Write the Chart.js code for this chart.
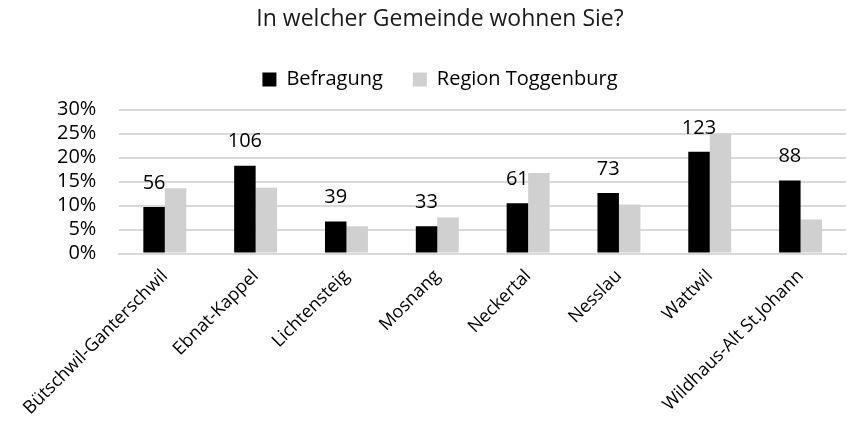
<!DOCTYPE html>
<html>
<head>
<meta charset="utf-8">
<script src="https://cdn.jsdelivr.net/npm/chart.js@4"></script>
<style>
  html, body { margin: 0; padding: 0; background: #fff; }
  #wrap { width: 850px; height: 423px; }
</style>
</head>
<body>
<div id="wrap"><canvas id="myChart" width="850" height="423"></canvas></div>
<script>
// Gemeinden und Anteile (in %)
var gemeinden = ['Bütschwil-Ganterschwil', 'Ebnat-Kappel', 'Lichtensteig', 'Mosnang',
                 'Neckertal', 'Nesslau', 'Wattwil', 'Wildhaus-Alt St.Johann'];
var befragung = [9.7, 18.3, 6.7, 5.7, 10.5, 12.6, 21.2, 15.2];
var region = [13.6, 13.7, 5.7, 7.5, 16.8, 10.2, 24.9, 7.1];
var anzahl = [56, 106, 39, 33, 61, 73, 123, 88];
var yTicks = [0, 5, 10, 15, 20, 25, 30];

var FONT = 'Open Sans';

// Anzahl-Labels über den schwarzen Balken
var countLabels = {
    id: 'countLabels',
    afterDatasetsDraw: function(chart) {
        var ctx = chart.ctx;
        var meta = chart.getDatasetMeta(0);
        ctx.save();
        ctx.font = '20px "' + FONT + '"';
        ctx.fillStyle = '#000';
        ctx.textAlign = 'center';
        ctx.textBaseline = 'middle';
        meta.data.forEach(function(bar, i) {
            ctx.fillText(anzahl[i], bar.x, bar.y - 24);
        });
        ctx.restore();
    }
};

// Abstand unter der Legende anpassen
var legendGap = {
    id: 'legendGap',
    beforeInit: function(chart) {
        var origFit = chart.legend.fit;
        chart.legend.fit = function() {
            origFit.bind(chart.legend)();
            this.height += 10;
        };
    }
};

var ctx = document.getElementById('myChart').getContext('2d');
var myChart = new Chart(ctx, {
    type: 'bar',
    data: {
        labels: gemeinden,
        datasets: [{
                label: 'Befragung',
                data: befragung,
                backgroundColor: '#000000'
            },
            {
                label: 'Region Toggenburg',
                data: region,
                backgroundColor: '#d0d0d0'
            }
        ]
    },
    options: {
        responsive: false,
        animation: false,
        layout: { padding: { left: 34, right: 4, top: 0, bottom: 0 } },
        datasets: {
            bar: { categoryPercentage: 0.473, barPercentage: 1.0 }
        },
        plugins: {
            title: {
                display: true,
                text: 'In welcher Gemeinde wohnen Sie?',
                color: '#1a1a1a',
                font: { family: FONT, size: 23, weight: 'normal' },
                padding: { top: 6, bottom: 6 }
            },
            legend: {
                display: true,
                labels: {
                    color: '#000',
                    font: { family: FONT, size: 20 },
                    boxWidth: 14,
                    boxHeight: 14,
                    padding: 30
                }
            },
            tooltip: { enabled: false }
        },
        scales: {
            x: {
                grid: { display: false },
                border: { color: '#d9d9d9', width: 2 },
                ticks: {
                    color: '#000',
                    font: { family: FONT, size: 18 },
                    minRotation: 45,
                    maxRotation: 45,
                    autoSkip: false,
                    padding: 4
                }
            },
            y: {
                min: 0,
                max: 30,
                afterBuildTicks: function(axis) {
                    axis.ticks = yTicks.map(function(v) { return { value: v }; });
                },
                grid: { color: '#d9d9d9', lineWidth: 2, drawTicks: false },
                border: { display: false },
                ticks: {
                    color: '#000',
                    font: { family: FONT, size: 20 },
                    padding: 23,
                    autoSkip: false,
                    stepSize: 5,
                    callback: function(v) { return v + '%'; }
                }
            }
        }
    },
    plugins: [countLabels, legendGap]
});
</script>
</body>
</html>
